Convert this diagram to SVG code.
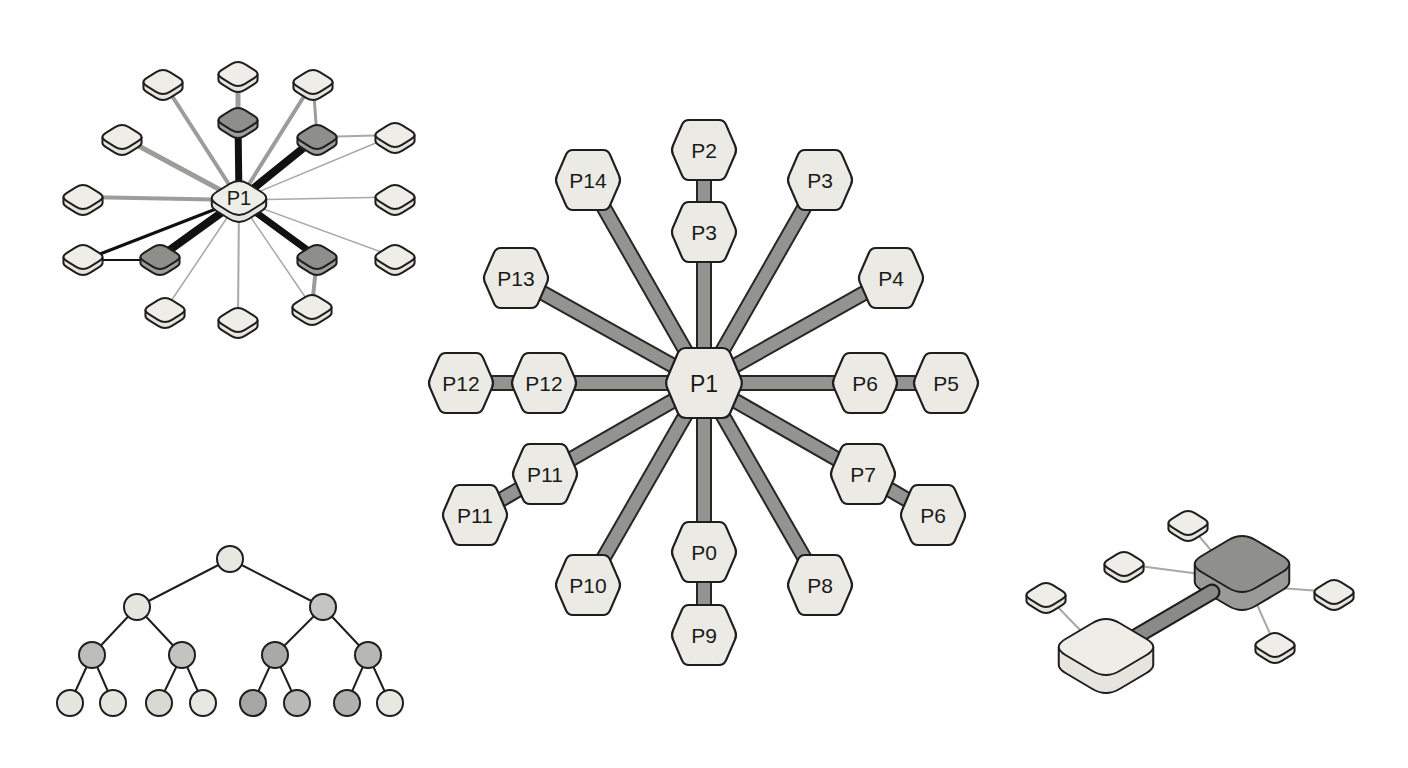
<svg xmlns="http://www.w3.org/2000/svg" width="1408" height="768" viewBox="0 0 1408 768">
<style>
.hx{fill:#ebeae4;stroke:#1e1e1e;stroke-width:2.2;stroke-linejoin:round}
.lb{font-family:"Liberation Sans",Arial,sans-serif;font-size:21px;fill:#1a1a1a;text-anchor:middle}
.lbb{font-family:"Liberation Sans",Arial,sans-serif;font-size:23px;fill:#1a1a1a;text-anchor:middle}
.bo{stroke:#262626;stroke-width:16;fill:none}
.bi{stroke:#939390;stroke-width:12;fill:none}
.ol{stroke:#1e1e1e;stroke-width:2;stroke-linejoin:round}
.tl{fill:#eeede7}
.sl{fill:#e5e4dd}
.td{fill:#8e8e8b}
.sd{fill:#9d9d9a}
.cn{fill:#e8e8e2;stroke:#1e1e1e;stroke-width:2}
.tr line{stroke:#1e1e1e;stroke-width:2}
</style>
<defs>
<path id="hexS" d="M -31,-4.6 L -22,-25.4 Q -20,-30 -15,-30 L 15,-30 Q 20,-30 22,-25.4 L 31,-4.6 Q 33,0 31,4.6 L 22,25.4 Q 20,30 15,30 L -15,30 Q -20,30 -22,25.4 L -31,4.6 Q -33,0 -31,-4.6 Z"/>
<path id="hexL" d="M -36.6,-5.5 L -26.4,-29.5 Q -24,-35 -18,-35 L 18,-35 Q 24,-35 26.4,-29.5 L 36.6,-5.5 Q 39,0 36.6,5.5 L 26.4,29.5 Q 24,35 18,35 L -18,35 Q -24,35 -26.4,29.5 L -36.6,5.5 Q -39,0 -36.6,-5.5 Z"/>
<g id="tileL">
<path class="ol sl" d="M -19.55,0 V 6 Q -19.55,8.1 -16.1,10.2 L -6.9,15.8 Q 0,20 6.9,15.8 L 16.1,10.2 Q 19.55,8.1 19.55,6 V 0"/>
<path class="ol tl" d="M -16.1,-4.2 L -6.9,-9.8 Q 0,-14 6.9,-9.8 L 16.1,-4.2 Q 23,0 16.1,4.2 L 6.9,9.8 Q 0,14 -6.9,9.8 L -16.1,4.2 Q -23,0 -16.1,-4.2 Z"/>
</g>
<g id="tileD">
<path class="ol sd" d="M -19.55,0 V 6 Q -19.55,8.1 -16.1,10.2 L -6.9,15.8 Q 0,20 6.9,15.8 L 16.1,10.2 Q 19.55,8.1 19.55,6 V 0"/>
<path class="ol td" d="M -16.1,-4.2 L -6.9,-9.8 Q 0,-14 6.9,-9.8 L 16.1,-4.2 Q 23,0 16.1,4.2 L 6.9,9.8 Q 0,14 -6.9,9.8 L -16.1,4.2 Q -23,0 -16.1,-4.2 Z"/>
</g>
<path id="bigSide" d="M -47.25,0 V 18 Q -47.25,22 -40.5,26 L -13.5,42 Q 0,50 13.5,42 L 40.5,26 Q 47.25,22 47.25,18 V 0"/>
<path id="bigTop" d="M -40.5,-8 L -13.5,-24 Q 0,-32 13.5,-24 L 40.5,-8 Q 54,0 40.5,8 L 13.5,24 Q 0,32 -13.5,24 L -40.5,8 Q -54,0 -40.5,-8 Z"/>
</defs>
<rect width="1408" height="768" fill="#ffffff"/>

<!-- Top-left cluster -->
<g id="cluster-connectors" fill="none" stroke-linecap="round">
<line x1="239" y1="200" x2="163" y2="82" stroke="#9c9c99" stroke-width="4"/>
<line x1="239" y1="200" x2="313" y2="82" stroke="#9c9c99" stroke-width="4"/>
<line x1="239" y1="200" x2="122" y2="137" stroke="#9c9c99" stroke-width="5"/>
<line x1="239" y1="200" x2="83" y2="197" stroke="#9c9c99" stroke-width="4"/>
<line x1="239" y1="200" x2="395" y2="135" stroke="#a8a8a5" stroke-width="1.5"/>
<line x1="317" y1="137" x2="395" y2="135" stroke="#a8a8a5" stroke-width="1.8"/>
<line x1="317" y1="137" x2="313" y2="82" stroke="#9c9c99" stroke-width="3"/>
<line x1="239" y1="200" x2="395" y2="197" stroke="#a8a8a5" stroke-width="1.5"/>
<line x1="239" y1="200" x2="395" y2="257" stroke="#a8a8a5" stroke-width="1.5"/>
<line x1="239" y1="200" x2="165" y2="310" stroke="#a8a8a5" stroke-width="1.5"/>
<line x1="239" y1="200" x2="238" y2="320" stroke="#a8a8a5" stroke-width="2"/>
<line x1="239" y1="200" x2="312" y2="307" stroke="#a8a8a5" stroke-width="1.5"/>
<line x1="317" y1="257" x2="312" y2="307" stroke="#9c9c99" stroke-width="4"/>
<line x1="238" y1="120" x2="238" y2="74" stroke="#9c9c99" stroke-width="5"/>
<line x1="239" y1="200" x2="238" y2="120" stroke="#111" stroke-width="7"/>
<line x1="239" y1="200" x2="317" y2="137" stroke="#111" stroke-width="8"/>
<line x1="239" y1="200" x2="317" y2="257" stroke="#111" stroke-width="7"/>
<line x1="239" y1="200" x2="160" y2="257" stroke="#111" stroke-width="8"/>
<line x1="239" y1="200" x2="100" y2="254" stroke="#111" stroke-width="3"/>
<line x1="100" y1="260" x2="150" y2="260" stroke="#111" stroke-width="2"/>
</g>
<g id="c-t1"><use href="#tileL" transform="translate(163,82)"/></g>
<g id="c-t2"><use href="#tileL" transform="translate(238,74)"/></g>
<g id="c-t3"><use href="#tileL" transform="translate(313,82)"/></g>
<g id="c-t4"><use href="#tileD" transform="translate(238,120)"/></g>
<g id="c-t5"><use href="#tileD" transform="translate(317,137)"/></g>
<g id="c-t6"><use href="#tileL" transform="translate(122,137)"/></g>
<g id="c-t7"><use href="#tileL" transform="translate(395,135)"/></g>
<g id="c-t8"><use href="#tileL" transform="translate(83,197)"/></g>
<g id="c-t9"><use href="#tileL" transform="translate(395,197)"/></g>
<g id="c-t10"><use href="#tileL" transform="translate(83,257)"/></g>
<g id="c-t11"><use href="#tileD" transform="translate(160,257)"/></g>
<g id="c-t12"><use href="#tileD" transform="translate(317,257)"/></g>
<g id="c-t13"><use href="#tileL" transform="translate(395,257)"/></g>
<g id="c-t14"><use href="#tileL" transform="translate(165,310)"/></g>
<g id="c-t15"><use href="#tileL" transform="translate(238,320)"/></g>
<g id="c-t16"><use href="#tileL" transform="translate(312,307)"/></g>
<g id="c-p1" transform="translate(239,198)">
<path class="ol sl" d="M -27.2,0 V 7 Q -27.2,10 -22.4,13 L -9.6,21 Q 0,27 9.6,21 L 22.4,13 Q 27.2,10 27.2,7 V 0"/>
<path class="ol tl" d="M -22.4,-6 L -9.6,-14 Q 0,-20 9.6,-14 L 22.4,-6 Q 32,0 22.4,6 L 9.6,14 Q 0,20 -9.6,14 L -22.4,6 Q -32,0 -22.4,-6 Z"/>
<text class="lb" x="0" y="7" style="font-size:20px">P1</text>
</g>

<!-- Central hexagon star -->
<g id="hex-connectors" stroke-linecap="butt">
<line class="bo" x1="704" y1="383" x2="704" y2="232"/><line class="bi" x1="704" y1="383" x2="704" y2="232"/>
<line class="bo" x1="704" y1="232" x2="704" y2="150"/><line class="bi" x1="704" y1="232" x2="704" y2="150"/>
<line class="bo" x1="704" y1="383" x2="820" y2="180"/><line class="bi" x1="704" y1="383" x2="820" y2="180"/>
<line class="bo" x1="704" y1="383" x2="891" y2="278"/><line class="bi" x1="704" y1="383" x2="891" y2="278"/>
<line class="bo" x1="704" y1="383" x2="865" y2="383"/><line class="bi" x1="704" y1="383" x2="865" y2="383"/>
<line class="bo" x1="865" y1="383" x2="946" y2="383"/><line class="bi" x1="865" y1="383" x2="946" y2="383"/>
<line class="bo" x1="704" y1="383" x2="863" y2="474"/><line class="bi" x1="704" y1="383" x2="863" y2="474"/>
<line class="bo" x1="863" y1="474" x2="933" y2="515"/><line class="bi" x1="863" y1="474" x2="933" y2="515"/>
<line class="bo" x1="704" y1="383" x2="820" y2="585"/><line class="bi" x1="704" y1="383" x2="820" y2="585"/>
<line class="bo" x1="704" y1="383" x2="704" y2="552"/><line class="bi" x1="704" y1="383" x2="704" y2="552"/>
<line class="bo" x1="704" y1="552" x2="704" y2="635"/><line class="bi" x1="704" y1="552" x2="704" y2="635"/>
<line class="bo" x1="704" y1="383" x2="588" y2="585"/><line class="bi" x1="704" y1="383" x2="588" y2="585"/>
<line class="bo" x1="704" y1="383" x2="545" y2="474"/><line class="bi" x1="704" y1="383" x2="545" y2="474"/>
<line class="bo" x1="545" y1="474" x2="475" y2="515"/><line class="bi" x1="545" y1="474" x2="475" y2="515"/>
<line class="bo" x1="704" y1="383" x2="544" y2="383"/><line class="bi" x1="704" y1="383" x2="544" y2="383"/>
<line class="bo" x1="544" y1="383" x2="461" y2="383"/><line class="bi" x1="544" y1="383" x2="461" y2="383"/>
<line class="bo" x1="704" y1="383" x2="516" y2="278"/><line class="bi" x1="704" y1="383" x2="516" y2="278"/>
<line class="bo" x1="704" y1="383" x2="588" y2="180"/><line class="bi" x1="704" y1="383" x2="588" y2="180"/>
</g>
<g id="h-p2" transform="translate(704,150)"><use href="#hexS" class="hx"/><text class="lb" y="7.5">P2</text></g>
<g id="h-p3a" transform="translate(704,232)"><use href="#hexS" class="hx"/><text class="lb" y="7.5">P3</text></g>
<g id="h-p3b" transform="translate(820,180)"><use href="#hexS" class="hx"/><text class="lb" y="7.5">P3</text></g>
<g id="h-p4" transform="translate(891,278)"><use href="#hexS" class="hx"/><text class="lb" y="7.5">P4</text></g>
<g id="h-p6a" transform="translate(865,383)"><use href="#hexS" class="hx"/><text class="lb" y="7.5">P6</text></g>
<g id="h-p5" transform="translate(946,383)"><use href="#hexS" class="hx"/><text class="lb" y="7.5">P5</text></g>
<g id="h-p7" transform="translate(863,474)"><use href="#hexS" class="hx"/><text class="lb" y="7.5">P7</text></g>
<g id="h-p6b" transform="translate(933,515)"><use href="#hexS" class="hx"/><text class="lb" y="7.5">P6</text></g>
<g id="h-p8" transform="translate(820,585)"><use href="#hexS" class="hx"/><text class="lb" y="7.5">P8</text></g>
<g id="h-p0" transform="translate(704,552)"><use href="#hexS" class="hx"/><text class="lb" y="7.5">P0</text></g>
<g id="h-p9" transform="translate(704,635)"><use href="#hexS" class="hx"/><text class="lb" y="7.5">P9</text></g>
<g id="h-p10" transform="translate(588,585)"><use href="#hexS" class="hx"/><text class="lb" y="7.5">P10</text></g>
<g id="h-p11a" transform="translate(545,474)"><use href="#hexS" class="hx"/><text class="lb" y="7.5">P11</text></g>
<g id="h-p11b" transform="translate(475,515)"><use href="#hexS" class="hx"/><text class="lb" y="7.5">P11</text></g>
<g id="h-p12a" transform="translate(544,383)"><use href="#hexS" class="hx"/><text class="lb" y="7.5">P12</text></g>
<g id="h-p12b" transform="translate(461,383)"><use href="#hexS" class="hx"/><text class="lb" y="7.5">P12</text></g>
<g id="h-p13" transform="translate(516,278)"><use href="#hexS" class="hx"/><text class="lb" y="7.5">P13</text></g>
<g id="h-p14" transform="translate(588,180)"><use href="#hexS" class="hx"/><text class="lb" y="7.5">P14</text></g>
<g id="h-p1" transform="translate(704,383)"><use href="#hexL" class="hx"/><text class="lbb" y="8.5">P1</text></g>

<!-- Bottom-left tree -->
<g id="tree-connectors" class="tr">
<line x1="230" y1="559" x2="137" y2="607"/><line x1="230" y1="559" x2="323" y2="607"/>
<line x1="137" y1="607" x2="92" y2="655"/><line x1="137" y1="607" x2="182" y2="655"/>
<line x1="323" y1="607" x2="275" y2="655"/><line x1="323" y1="607" x2="368" y2="655"/>
<line x1="92" y1="655" x2="70" y2="703"/><line x1="92" y1="655" x2="113" y2="703"/>
<line x1="182" y1="655" x2="159" y2="703"/><line x1="182" y1="655" x2="203" y2="703"/>
<line x1="275" y1="655" x2="253" y2="703"/><line x1="275" y1="655" x2="297" y2="703"/>
<line x1="368" y1="655" x2="347" y2="703"/><line x1="368" y1="655" x2="390" y2="703"/>
</g>
<g id="t-root"><circle class="cn" cx="230" cy="559" r="13"/></g>
<g id="t-l1a"><circle class="cn" cx="137" cy="607" r="13" style="fill:#e6e6e0"/></g>
<g id="t-l1b"><circle class="cn" cx="323" cy="607" r="13" style="fill:#c5c5c1"/></g>
<g id="t-l2a"><circle class="cn" cx="92" cy="655" r="13" style="fill:#bcbcb8"/></g>
<g id="t-l2b"><circle class="cn" cx="182" cy="655" r="13" style="fill:#c3c3bf"/></g>
<g id="t-l2c"><circle class="cn" cx="275" cy="655" r="13" style="fill:#a9a9a6"/></g>
<g id="t-l2d"><circle class="cn" cx="368" cy="655" r="13" style="fill:#b7b7b3"/></g>
<g id="t-l3a"><circle class="cn" cx="70" cy="703" r="13" style="fill:#e6e6e0"/></g>
<g id="t-l3b"><circle class="cn" cx="113" cy="703" r="13" style="fill:#e6e6e0"/></g>
<g id="t-l3c"><circle class="cn" cx="159" cy="703" r="13" style="fill:#d9d9d4"/></g>
<g id="t-l3d"><circle class="cn" cx="203" cy="703" r="13" style="fill:#e8e8e2"/></g>
<g id="t-l3e"><circle class="cn" cx="253" cy="703" r="13" style="fill:#a6a6a3"/></g>
<g id="t-l3f"><circle class="cn" cx="297" cy="703" r="13" style="fill:#b8b8b4"/></g>
<g id="t-l3g"><circle class="cn" cx="347" cy="703" r="13" style="fill:#b0b0ac"/></g>
<g id="t-l3h"><circle class="cn" cx="390" cy="703" r="13" style="fill:#e8e8e2"/></g>

<!-- Bottom-right isometric -->
<g id="iso-connectors" stroke="#a8a8a5" stroke-width="2">
<line x1="1188" y1="523" x2="1215" y2="555"/>
<line x1="1124" y1="564" x2="1200" y2="574"/>
<line x1="1046" y1="595" x2="1085" y2="635"/>
<line x1="1280" y1="588" x2="1334" y2="592"/>
<line x1="1255" y1="600" x2="1275" y2="645"/>
</g>
<g id="iso-dark" transform="translate(1242,564)">
<use href="#bigSide" class="ol" style="fill:#9a9a97"/>
<use href="#bigTop" class="ol" style="fill:#8f8f8c"/>
</g>
<g id="iso-bar" stroke-linecap="round">
<line x1="1130" y1="640" x2="1212" y2="592" stroke="#1e1e1e" stroke-width="17"/>
<line x1="1130" y1="640" x2="1212" y2="592" stroke="#8a8a87" stroke-width="12.5"/>
</g>
<g id="iso-light" transform="translate(1106,647)">
<use href="#bigSide" class="ol" style="fill:#e5e4dd"/>
<use href="#bigTop" class="ol" style="fill:#eeede7"/>
</g>
<g id="iso-t1"><use href="#tileL" transform="translate(1188,523)"/></g>
<g id="iso-t2"><use href="#tileL" transform="translate(1124,564)"/></g>
<g id="iso-t3"><use href="#tileL" transform="translate(1046,595)"/></g>
<g id="iso-t4"><use href="#tileL" transform="translate(1334,592)"/></g>
<g id="iso-t5"><use href="#tileL" transform="translate(1275,645)"/></g>
</svg>
